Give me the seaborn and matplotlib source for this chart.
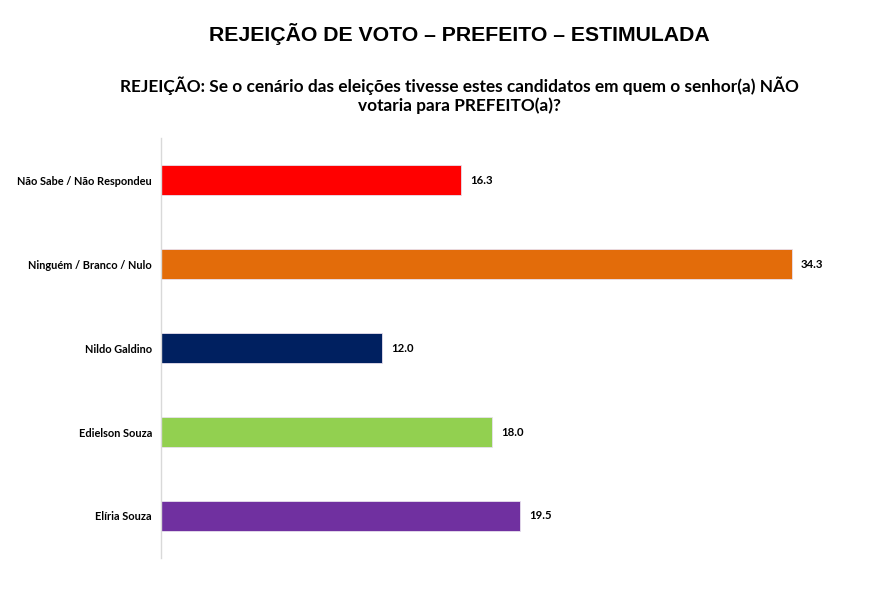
import matplotlib
matplotlib.use("Agg")
import matplotlib.pyplot as plt
import seaborn as sns
import pandas as pd

# Data
categories = ["Não Sabe / Não Respondeu", "Ninguém / Branco / Nulo", "Nildo Galdino",
              "Edielson Souza", "Elíria Souza"]
values = [16.3, 34.3, 12.0, 18.0, 19.5]
colors = ["#FF0000", "#E36C0A", "#002060", "#92D050", "#7030A0"]

df = pd.DataFrame({"Candidato": categories, "Rejeicao": values})

sns.set_style("white")
plt.rcParams["font.family"] = ["Lato", "DejaVu Sans"]
plt.rcParams["text.color"] = "black"
plt.rcParams["ytick.color"] = "black"

fig = plt.figure(figsize=(8.89, 5.98), dpi=100)
ax = fig.add_axes([0.1811, 0.0669, 0.786, 0.7023])

sns.barplot(data=df, x="Rejeicao", y="Candidato", hue="Candidato",
            palette=colors, legend=False, width=0.36, ax=ax, saturation=1,
            edgecolor="#e8e0ee", linewidth=0.6)

ax.set_xlim(0, 38)
ax.set_ylim(4.5, -0.5)
ax.set_xlabel("")
ax.set_ylabel("")
ax.set_xticks([])
for s in ["top", "right", "bottom"]:
    ax.spines[s].set_visible(False)
ax.spines["left"].set_color("#d9d9d9")
ax.spines["left"].set_linewidth(1.0)
ax.tick_params(axis="y", length=0, pad=6.5)
for lbl in ax.get_yticklabels():
    lbl.set_fontsize(7.9)
    lbl.set_fontweight("bold")

for i, v in enumerate(values):
    ax.text(v + 0.5, i, f"{v:.1f}", va="center", ha="left",
            fontsize=8.2, fontweight="bold")

fig.text(0.517, 0.943, "REJEIÇÃO DE VOTO – PREFEITO – ESTIMULADA",
         ha="center", va="center", fontsize=15.3, fontweight="bold",
         family=["Liberation Sans", "DejaVu Sans"])
fig.text(0.517, 0.841,
         "REJEIÇÃO: Se o cenário das eleições tivesse estes candidatos em quem o senhor(a) NÃO\nvotaria para PREFEITO(a)?",
         ha="center", va="center", fontsize=12.4, fontweight="bold",
         linespacing=1.2)

fig.savefig("out.png", dpi=100)
